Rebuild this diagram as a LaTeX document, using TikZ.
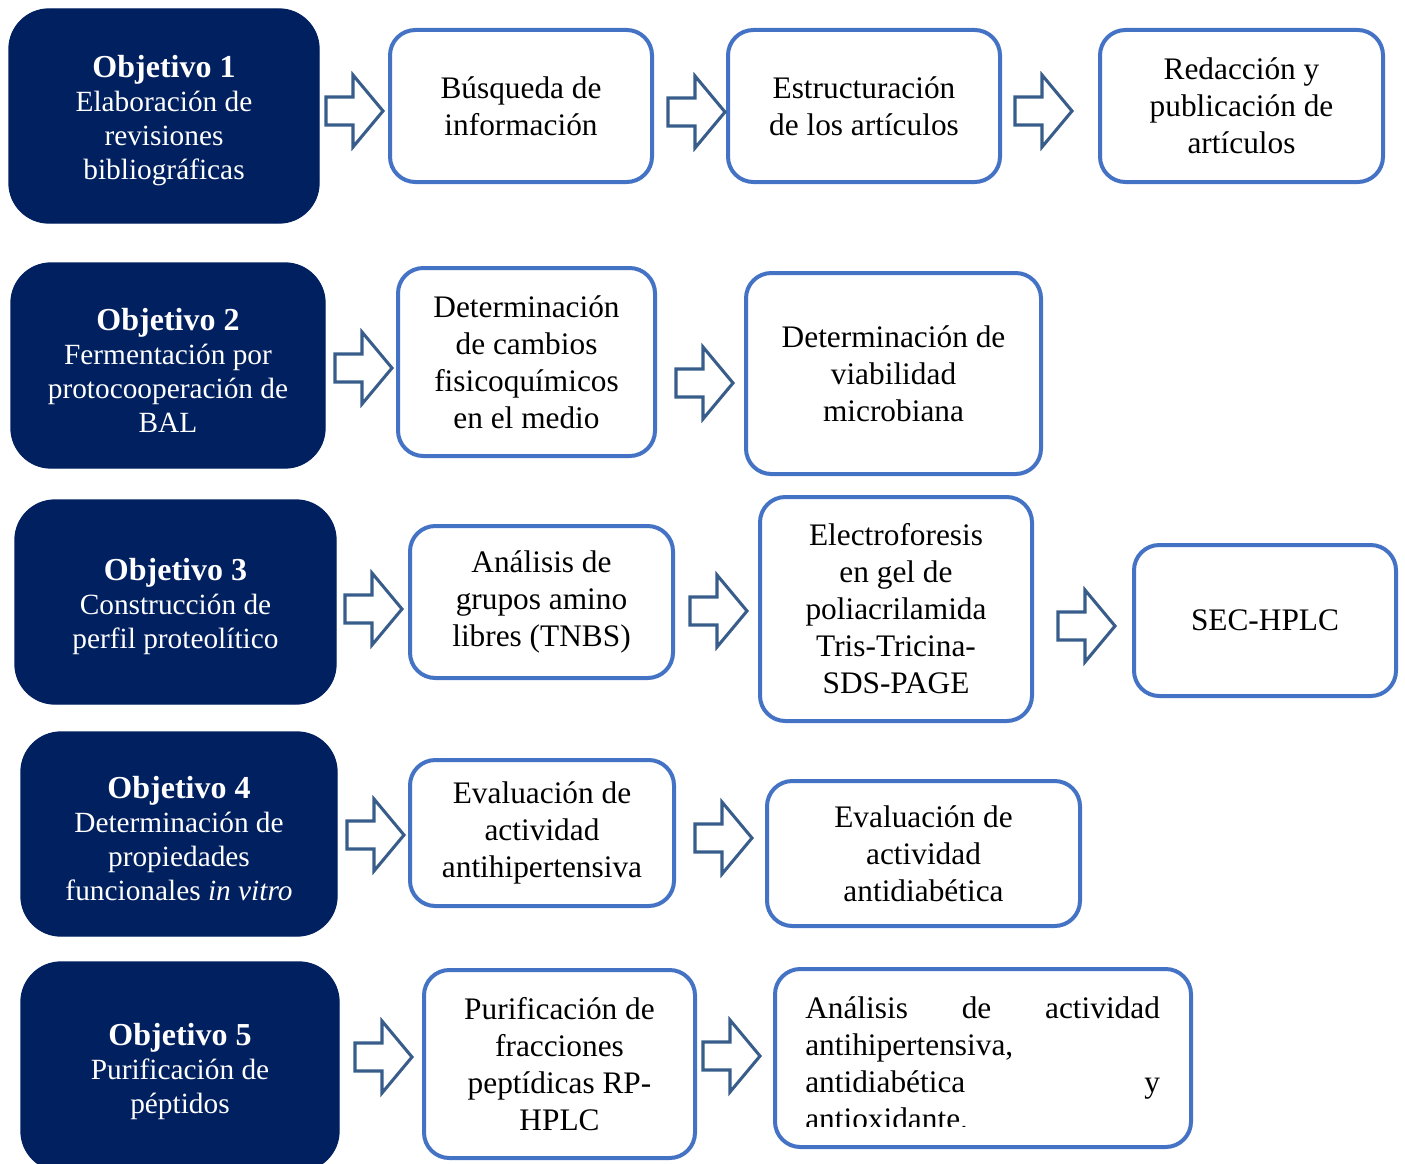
\documentclass[tikz,border=0pt]{standalone}
\usepackage{fontspec}
\setmainfont{Liberation Serif}
\definecolor{darkbg}{RGB}{0,32,96}
\definecolor{boxblue}{RGB}{68,114,196}
\definecolor{arrblue}{RGB}{56,93,138}
\tikzset{
  objbox/.style={fill=darkbg, draw=darkbg, line width=1pt, rounded corners=30pt, inner sep=0pt,
    align=center, text=white, font=\fontsize{22}{25.5}\selectfont},
  stepbox/.style={draw=boxblue, fill=white, line width=3pt, rounded corners=19pt, inner sep=0pt,
    align=center, text=black, font=\fontsize{23.5}{27.75}\selectfont},
  sz/.style 2 args={minimum width=#1pt, minimum height=#2pt},
  barrow/.pic={\draw[draw=arrblue, line width=2.3pt, line join=miter]
     (0,-14) -- (27,-14) -- (27,-36) -- (57,0) -- (27,36) -- (27,14) -- (0,14) -- cycle;}
}
\newcommand{\objt}[1]{{\fontsize{24}{25.5}\selectfont\bfseries\rule{0pt}{24pt}#1}}
\begin{document}
\begin{tikzpicture}[x=0.75pt,y=-0.75pt]
\useasboundingbox (0,0) rectangle (1405,1163);
\begin{scope}
\clip (0,0) rectangle (1405,1163);
% Row 1
\node[objbox, sz={232.5}{160.5}] (o1) at (164,116) {\objt{Objetivo 1}\\Elaboración de\\revisiones\\bibliográficas};
\node[stepbox, sz={196.5}{114}] (b11) at (521,106) {Búsqueda de\\información};
\node[stepbox, sz={204}{114}] (b12) at (864,106) {Estructuración\\de los artículos};
\node[stepbox, sz={212.25}{114}] (b13) at (1241.5,106) {Redacción y\\publicación de\\artículos};
\pic at (326,111) {barrow};
\pic at (668,112) {barrow};
\pic at (1015,111) {barrow};
% Row 2
\node[objbox, sz={235.5}{153.75}] (o2) at (168,365.5) {\objt{Objetivo 2}\\Fermentación por\\protocooperación de\\BAL};
\node[stepbox, sz={192.75}{141}] (b21) at (526.5,362) {Determinación\\de cambios\\fisicoquímicos\\en el medio};
\node[stepbox, sz={221.25}{150.75}] (b22) at (893.5,373.5) {Determinación de\\viabilidad\\microbiana};
\pic at (335,368) {barrow};
\pic at (676,383) {barrow};
% Row 3
\node[objbox, sz={240.75}{153}] (o3) at (175.5,602) {\objt{Objetivo 3}\\Construcción de\\perfil proteolítico};
\node[stepbox, sz={197.25}{114}] (b31) at (541.5,602) {Análisis de\\grupos amino\\libres (TNBS)};
\node[stepbox, sz={204}{168}] (b32) at (896,609) {Electroforesis\\en gel de\\poliacrilamida\\Tris-Tricina-\\SDS-PAGE};
\node[stepbox, sz={196.5}{113.25}] (b33) at (1265,620.5) {SEC-HPLC};
\pic at (345,609) {barrow};
\pic at (690,611) {barrow};
\pic at (1058,626) {barrow};
% Row 4
\node[objbox, sz={237}{153}] (o4) at (179,834) {\objt{Objetivo 4}\\Determinación de\\propiedades\\funcionales \textit{in vitro}};
\node[stepbox, sz={198}{109.5}] (b41) at (542,833) {Evaluación de\\actividad\\antihipertensiva};
\node[stepbox, sz={234.75}{108.75}] (b42) at (923.5,853.5) {Evaluación de\\actividad\\antidiabética};
\pic at (347,835) {barrow};
\pic at (695,838) {barrow};
% Row 5
\node[objbox, sz={238.5}{156.75}] (o5) at (180,1066.5) {\objt{Objetivo 5}\\Purificación de\\péptidos};
\node[stepbox, sz={203.25}{141}] (b51) at (559.5,1064) {Purificación de\\fracciones\\peptídicas RP-\\HPLC};
\node[stepbox, sz={312}{133.5}] (b52) at (983,1058) {};
\begin{scope}
\clip (785,975) rectangle (1185,1126);
\node[anchor=north west, inner sep=0pt, text width=266pt, align=left,
      font=\fontsize{23.5}{27.75}\selectfont] (t52) at (805,996)
  {Análisis\hfill de\hfill actividad\\antihipertensiva,\\antidiabética\hfill y\\antioxidante.};
\end{scope}
\pic at (355,1057) {barrow};
\pic at (703,1056) {barrow};
\end{scope}
\end{tikzpicture}
\end{document}
